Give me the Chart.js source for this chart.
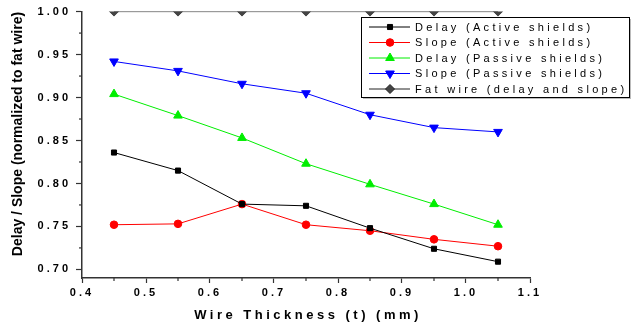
<!DOCTYPE html>
<html>
<head>
<meta charset="utf-8">
<script src="https://cdn.jsdelivr.net/npm/chart.js@4.4.0/dist/chart.umd.min.js"></script>
<style>
  html, body { margin: 0; padding: 0; background: #fff; }
  #wrap { width: 631px; height: 329px; }
</style>
</head>
<body>
<div id="wrap"><canvas id="myChart" width="631" height="329"></canvas></div>
<script>
// spessori del filo (asse x, mm)
const thickness = [0.45, 0.55, 0.65, 0.75, 0.85, 0.95, 1.05];
// valori normalizzati rispetto al fat wire
const delayActive = [0.836, 0.815, 0.776, 0.774, 0.748, 0.724, 0.709];
const slopeActive = [0.752, 0.753, 0.776, 0.752, 0.745, 0.735, 0.727];
const delayPassive = [0.904, 0.879, 0.853, 0.823, 0.799, 0.776, 0.752];
const slopePassive = [0.942, 0.931, 0.916, 0.905, 0.880, 0.865, 0.860];
const fatWire = [1.0, 1.0, 1.0, 1.0, 1.0, 1.0, 1.0];

// etichette degli assi
const yTickValues = [0.70, 0.75, 0.80, 0.85, 0.90, 0.95, 1.00];
const xTickValues = [0.4, 0.5, 0.6, 0.7, 0.8, 0.9, 1.0, 1.1];

const seriesLabels = [
    'Delay (Active shields)',
    'Slope (Active shields)',
    'Delay (Passive shields)',
    'Slope (Passive shields)',
    'Fat wire (delay and slope)'
];
const xTitle = 'Wire Thickness (t) (mm)';
const yTitle = 'Delay / Slope (normalized to fat wire)';

const FONT = '"Liberation Sans", Arial, sans-serif';
const AXIS = '#333';

function toPoints(values) {
    return thickness.map((t, i) => ({ x: t, y: values[i] }));
}

function makeSet(label, values, color, style, radius, rotation) {
    return {
        label: label,
        data: toPoints(values),
        borderColor: color,
        backgroundColor: color,
        pointBackgroundColor: color,
        pointBorderColor: color,
        pointStyle: style,
        pointRadius: radius,
        pointRotation: rotation || 0,
        borderWidth: 1,
        tension: 0,
    };
}

const datasets = [
    makeSet(seriesLabels[0], delayActive, '#000000', 'rect', 3.6),
    makeSet(seriesLabels[1], slopeActive, '#ff0000', 'circle', 3.8),
    makeSet(seriesLabels[2], delayPassive, '#00ee00', 'triangle', 5),
    makeSet(seriesLabels[3], slopePassive, '#0000ff', 'triangle', 5, 180),
    makeSet(seriesLabels[4], fatWire, '#444444', 'rectRot', 4.5),
];
datasets[4].borderColor = '#222';
// il fat wire sta sul bordo superiore: i marker vengono tagliati a metà
datasets[4].clip = { left: 10, right: 10, top: 0, bottom: 10 };

// tacche secondarie, titoli e legenda disegnati a mano
const decorations = {
    id: 'decorations',
    beforeDraw(chart) {
        chart.ctx.letterSpacing = '3px';
    },
    afterDraw(chart) {
        const ctx = chart.ctx;
        const xs = chart.scales.x;
        const ys = chart.scales.y;
        const area = chart.chartArea;
        ctx.save();
        ctx.strokeStyle = AXIS;
        ctx.lineWidth = 1.2;
        // minor ticks
        for (let i = 0; i < xTickValues.length - 1; i++) {
            const px = xs.getPixelForValue((xTickValues[i] + xTickValues[i + 1]) / 2);
            ctx.beginPath();
            ctx.moveTo(px, area.bottom);
            ctx.lineTo(px, area.bottom + 3);
            ctx.stroke();
        }
        for (let i = 0; i < yTickValues.length - 1; i++) {
            const py = ys.getPixelForValue((yTickValues[i] + yTickValues[i + 1]) / 2);
            ctx.beginPath();
            ctx.moveTo(area.left, py);
            ctx.lineTo(area.left - 3, py);
            ctx.stroke();
        }
        // x title
        ctx.fillStyle = '#000';
        ctx.letterSpacing = '3.5px';
        ctx.font = 'bold 13px ' + FONT;
        ctx.textAlign = 'center';
        ctx.textBaseline = 'middle';
        ctx.fillText(xTitle, (area.left + area.right) / 2 + 2, 315);
        // y title
        ctx.letterSpacing = '0px';
        ctx.font = 'bold 14px ' + FONT;
        ctx.save();
        ctx.translate(18, 134);
        ctx.rotate(-Math.PI / 2);
        ctx.fillText(yTitle, 0, 0);
        ctx.restore();

        // legend box con ombra leggera
        const bx = 361, by = 17, bw = 268, bh = 80;
        ctx.fillStyle = '#bbb';
        ctx.fillRect(bx + 2, by + 2, bw, bh);
        ctx.fillStyle = '#fff';
        ctx.fillRect(bx, by, bw, bh);
        ctx.strokeStyle = '#000';
        ctx.lineWidth = 1;
        ctx.strokeRect(bx + 0.5, by + 0.5, bw, bh);
        ctx.font = '11px ' + FONT;
        ctx.letterSpacing = '3.3px';
        ctx.textAlign = 'left';
        chart.data.datasets.forEach((ds, i) => {
            const y = by + 10 + i * 15.5;
            ctx.strokeStyle = ds.borderColor;
            ctx.lineWidth = 1;
            ctx.beginPath();
            ctx.moveTo(bx + 8, y);
            ctx.lineTo(bx + 49, y);
            ctx.stroke();
            ctx.fillStyle = ds.pointBackgroundColor;
            Chart.helpers.drawPoint(ctx, {
                pointStyle: ds.pointStyle,
                radius: ds.pointRadius,
                rotation: ds.pointRotation,
                borderWidth: 1,
            }, bx + 29, y);
            ctx.fillStyle = '#000';
            ctx.fillText(ds.label, bx + 54, y + 0.5);
        });
        ctx.restore();
    }
};

new Chart(document.getElementById('myChart'), {
    type: 'line',
    data: { datasets: datasets },
    options: {
        responsive: false,
        animation: false,
        layout: { padding: { top: 10, right: 101, left: 0, bottom: 0 } },
        scales: {
            x: {
                type: 'linear',
                min: 0.4,
                max: 1.1,
                ticks: {
                    padding: 3,
                    color: '#000',
                    font: { family: FONT, size: 11, weight: 'bold' },
                    maxRotation: 0,
                    callback: (v) => v.toFixed(1),
                },
                afterBuildTicks: (scale) => {
                    scale.ticks = xTickValues.map(v => ({ value: v }));
                },
                grid: { drawOnChartArea: false, tickLength: 5, tickColor: AXIS, tickWidth: 1.2 },
                border: { color: AXIS, width: 1.5 },
                afterFit: (scale) => { scale.height = 51; },
            },
            y: {
                min: 0.69,
                max: 1.0,
                ticks: {
                    padding: 5,
                    color: '#000',
                    font: { family: FONT, size: 11, weight: 'bold' },
                    callback: (v) => v.toFixed(2),
                },
                afterBuildTicks: (scale) => {
                    scale.ticks = yTickValues.map(v => ({ value: v }));
                },
                grid: { drawOnChartArea: false, tickLength: 6, tickColor: AXIS, tickWidth: 1.2 },
                border: { color: AXIS, width: 1.5 },
                afterFit: (scale) => { scale.width = 82; },
            },
        },
        plugins: {
            legend: { display: false },
            tooltip: { enabled: false },
        },
    },
    plugins: [decorations],
});
</script>
</body>
</html>
